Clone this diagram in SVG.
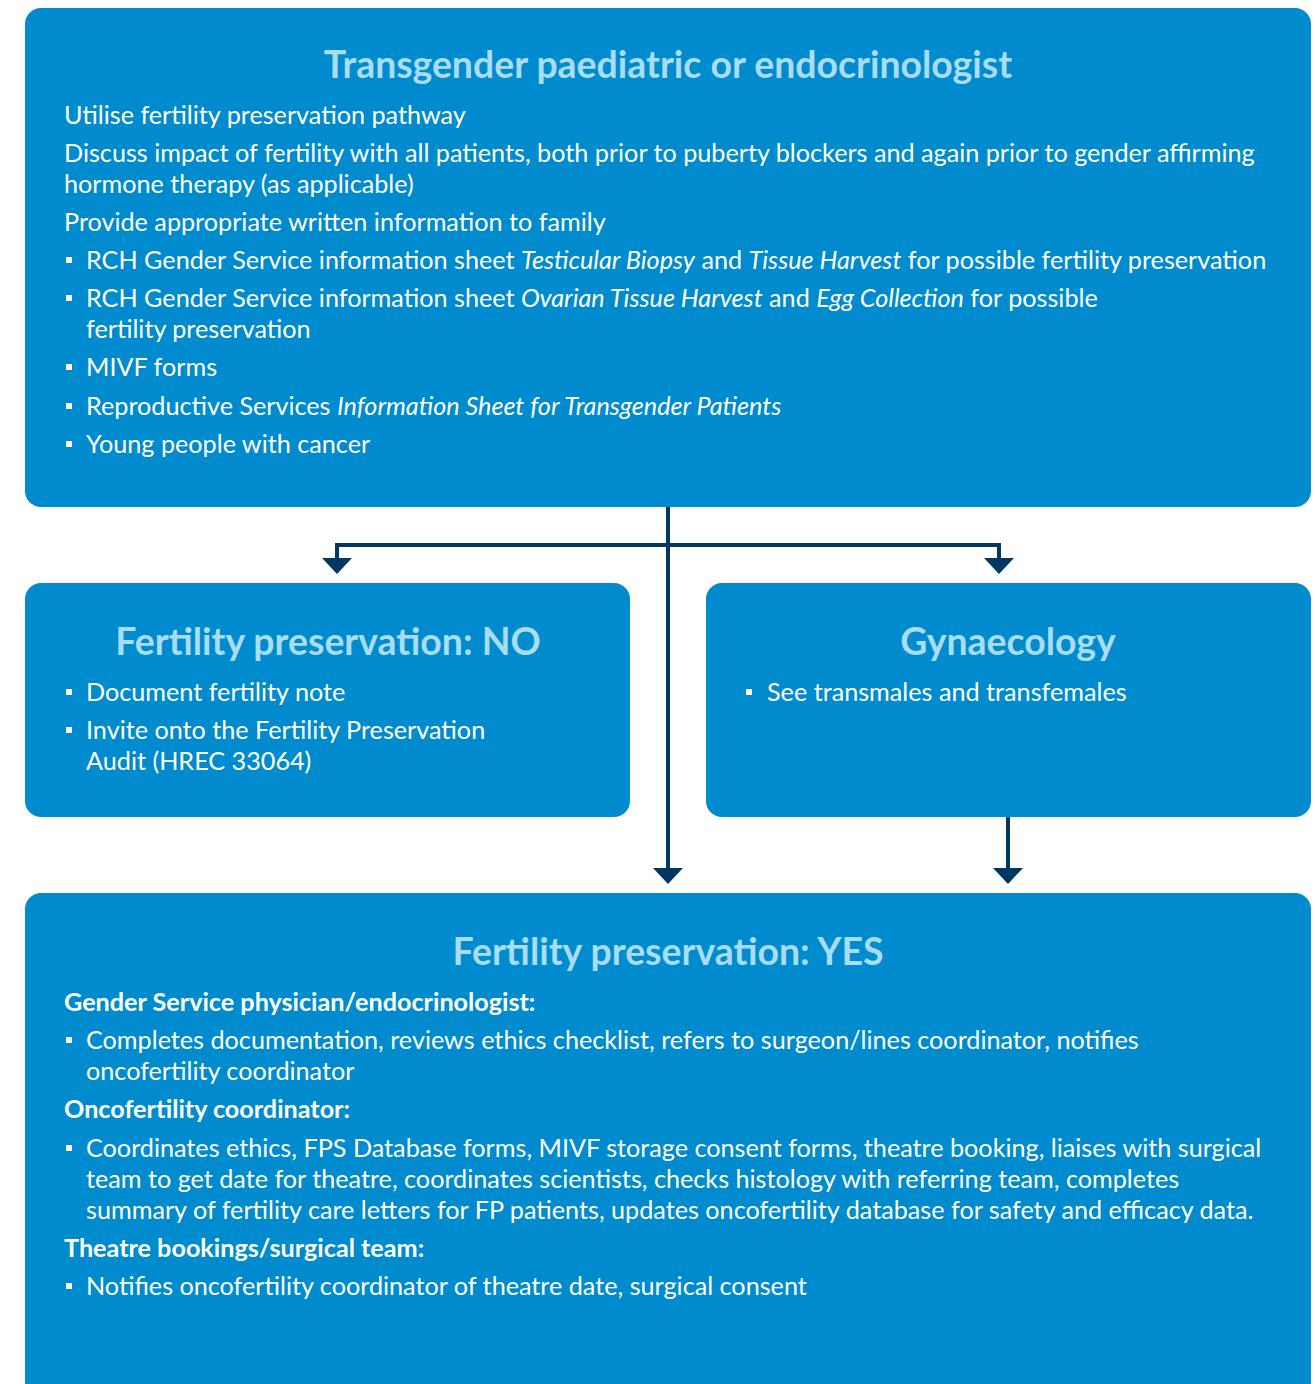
<svg xmlns="http://www.w3.org/2000/svg" width="1315" height="1384" viewBox="0 0 1315 1384">
<style>
.box{fill:#008BCE}
.t{font-family:Lato,"Liberation Sans",sans-serif;font-size:25.2px;fill:#ffffff}
.h{font-family:Lato,"Liberation Sans",sans-serif;font-size:37.4px;font-weight:bold;fill:#A8DDF3;text-anchor:middle}
.b{font-weight:bold}
.i{font-style:italic}
.bl{fill:#ffffff}
.c{stroke:#003763;stroke-width:4;fill:none}
.ah{fill:#003763}
</style>
<defs>
<rect id="bul" x="-3" y="-3" width="6" height="6" class="bl"/>
<path id="arr" d="M-15,0 L15,0 L0,16 Z" class="ah"/>
</defs>
<rect width="1315" height="1384" fill="#ffffff"/>
<g id="connectors">
<line class="c" x1="668" y1="506" x2="668" y2="870"/>
<polyline class="c" points="337,562 337,545 999,545 999,562"/>
<line class="c" x1="1008" y1="816" x2="1008" y2="870"/>
<use href="#arr" x="337" y="558"/>
<use href="#arr" x="999" y="558"/>
<use href="#arr" x="668" y="868"/>
<use href="#arr" x="1008" y="868"/>
</g>
<g id="top">
<rect class="box" x="25" y="8" width="1286" height="499" rx="16"/>
<text class="h" x="668" y="78">Transgender paediatric or endocrinologist</text>
<text class="t" x="64" y="124">Utilise fertility preservation pathway</text>
<text class="t" x="64" y="162">Discuss impact of fertility with all patients, both prior to puberty blockers and again prior to gender affirming</text>
<text class="t" x="64" y="193">hormone therapy (as applicable)</text>
<text class="t" x="64" y="231">Provide appropriate written information to family</text>
<use href="#bul" x="69" y="260"/>
<text class="t" x="86" y="269">RCH Gender Service information sheet <tspan class="i">Testicular Biopsy</tspan> and <tspan class="i">Tissue Harvest</tspan> for possible fertility preservation</text>
<use href="#bul" x="69" y="298"/>
<text class="t" x="86" y="307">RCH Gender Service information sheet <tspan class="i">Ovarian Tissue Harvest</tspan> and <tspan class="i">Egg Collection</tspan> for possible</text>
<text class="t" x="86" y="338">fertility preservation</text>
<use href="#bul" x="69" y="367"/>
<text class="t" x="86" y="376">MIVF forms</text>
<use href="#bul" x="69" y="406"/>
<text class="t" x="86" y="415">Reproductive Services <tspan class="i">Information Sheet for Transgender Patients</tspan></text>
<use href="#bul" x="69" y="444"/>
<text class="t" x="86" y="453">Young people with cancer</text>
</g>
<g id="fp-no">
<rect class="box" x="25" y="583" width="605" height="234" rx="16"/>
<text class="h" x="328" y="655">Fertility preservation: NO</text>
<use href="#bul" x="69" y="692"/>
<text class="t" x="86" y="701">Document fertility note</text>
<use href="#bul" x="69" y="730"/>
<text class="t" x="86" y="739">Invite onto the Fertility Preservation</text>
<text class="t" x="86" y="770">Audit (HREC 33064)</text>
</g>
<g id="gynaecology">
<rect class="box" x="706" y="583" width="605" height="234" rx="16"/>
<text class="h" x="1008" y="655">Gynaecology</text>
<use href="#bul" x="749" y="692"/>
<text class="t" x="767" y="701">See transmales and transfemales</text>
</g>
<g id="fp-yes">
<rect class="box" x="25" y="893" width="1286" height="520" rx="16"/>
<text class="h" x="668" y="965">Fertility preservation: YES</text>
<text class="t b" x="64" y="1011">Gender Service physician/endocrinologist:</text>
<use href="#bul" x="69" y="1040"/>
<text class="t" x="86" y="1049">Completes documentation, reviews ethics checklist, refers to surgeon/lines coordinator, notifies</text>
<text class="t" x="86" y="1080">oncofertility coordinator</text>
<text class="t b" x="64" y="1118">Oncofertility coordinator:</text>
<use href="#bul" x="69" y="1148"/>
<text class="t" x="86" y="1157">Coordinates ethics, FPS Database forms, MIVF storage consent forms, theatre booking, liaises with surgical</text>
<text class="t" x="86" y="1188">team to get date for theatre, coordinates scientists, checks histology with referring team, completes</text>
<text class="t" x="86" y="1219">summary of fertility care letters for FP patients, updates oncofertility database for safety and efficacy data.</text>
<text class="t b" x="64" y="1257">Theatre bookings/surgical team:</text>
<use href="#bul" x="69" y="1286"/>
<text class="t" x="86" y="1295">Notifies oncofertility coordinator of theatre date, surgical consent</text>
</g>
</svg>
